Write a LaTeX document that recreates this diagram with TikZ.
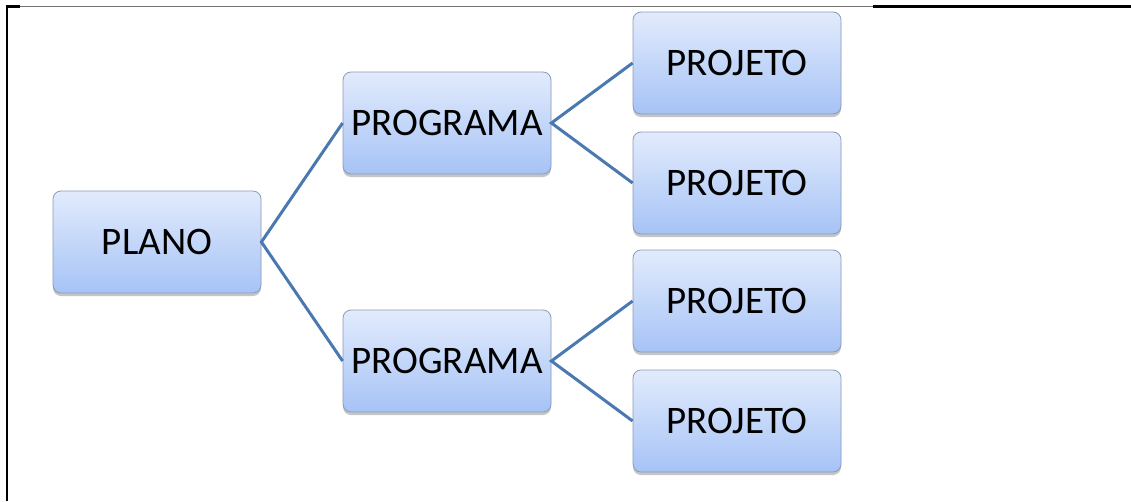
\documentclass[tikz,border=0pt]{standalone}
\usepackage{fontspec}
\setmainfont{Carlito}
\usetikzlibrary{positioning,shadows}

\definecolor{boxtop}{HTML}{E2EBFC}
\definecolor{boxbot}{HTML}{A6C3F6}
\definecolor{boxline}{HTML}{8A9BB8}
\definecolor{linkblue}{HTML}{4A78B0}

\begin{document}
\begin{tikzpicture}[
        x=1pt, y=-1pt,
        node distance=16pt,
        item/.style={rectangle, rounded corners=8pt, draw=boxline, line width=0.8pt,
          top color=boxtop, bottom color=boxbot, minimum width=208pt, minimum height=102pt,
          font=\fontsize{39}{41}\selectfont, inner sep=0pt,
          drop shadow={shadow xshift=0pt, shadow yshift=-3pt, fill=black!45, opacity=0.5}},
        link/.style={draw=linkblue, line width=3pt}
      ]
        \useasboundingbox (0,0) rectangle (1131,501);

        % frame
        \draw[black!55, line width=1.2pt] (20,6.5) -- (873,6.5);
        \draw[black, line width=3.5pt] (873,6.5) -- (1131,6.5);
        \draw[black, line width=2.5pt] (7,501) -- (7,6.5) -- (20,6.5);

        \node[item] (plano) at (157,242) {PLANO};
        \node[item] (prog1) at (447,123) {PROGRAMA};
        \node[item] (prog2) at (447,361) {PROGRAMA};
        \node[item] (proj1) at (737,63) {PROJETO};
        \node[item] (proj2) at (737,183) {PROJETO};
        \node[item] (proj3) at (737,301) {PROJETO};
        \node[item] (proj4) at (737,421) {PROJETO};

        \draw[link] (prog1.west) -- (plano.east) -- (prog2.west);
        \draw[link] (proj1.west) -- (prog1.east) -- (proj2.west);
        \draw[link] (proj3.west) -- (prog2.east) -- (proj4.west);

      \end{tikzpicture}
\end{document}
